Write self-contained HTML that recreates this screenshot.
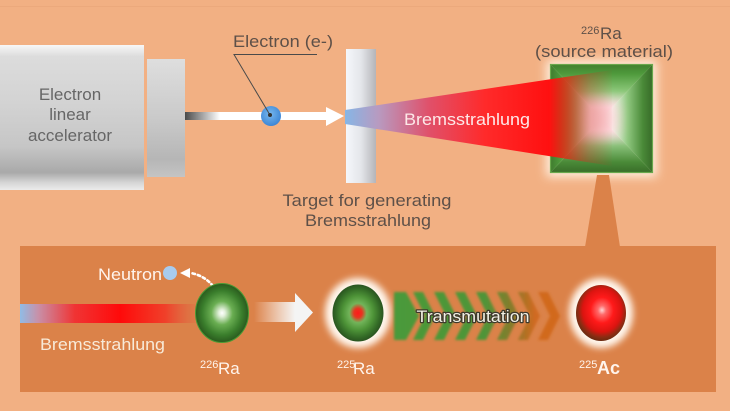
<!DOCTYPE html>
<html><head><meta charset="utf-8"><style>
html,body{margin:0;padding:0;background:#F2B083;}
svg{display:block;}
text{font-family:"Liberation Sans",Arial,sans-serif;}
</style></head><body>
<svg width="730" height="411" viewBox="0 0 730 411" xmlns="http://www.w3.org/2000/svg">
<defs>
  <linearGradient id="acc" x1="0" y1="0" x2="0" y2="1">
    <stop offset="0" stop-color="#f7f7f7"/>
    <stop offset="0.08" stop-color="#dcdcdc"/>
    <stop offset="0.4" stop-color="#d3d3d3"/>
    <stop offset="0.7" stop-color="#c6c6c6"/>
    <stop offset="0.88" stop-color="#a9a9a9"/>
    <stop offset="0.95" stop-color="#d6d6d6"/>
    <stop offset="1" stop-color="#ececec"/>
  </linearGradient>
  <linearGradient id="acc2" x1="0" y1="0" x2="0" y2="1">
    <stop offset="0" stop-color="#dedede"/>
    <stop offset="0.5" stop-color="#cacaca"/>
    <stop offset="0.85" stop-color="#b6b6b6"/>
    <stop offset="1" stop-color="#c4c4c4"/>
  </linearGradient>
  <linearGradient id="beam" gradientUnits="userSpaceOnUse" x1="185" y1="0" x2="220" y2="0">
    <stop offset="0" stop-color="#4a4a4a"/>
    <stop offset="1" stop-color="#ffffff"/>
  </linearGradient>
  <radialGradient id="elec" cx="0.45" cy="0.4" r="0.6">
    <stop offset="0" stop-color="#78b8ee"/>
    <stop offset="1" stop-color="#3c86d6"/>
  </radialGradient>
  <linearGradient id="tgt" x1="0" y1="0" x2="1" y2="0">
    <stop offset="0" stop-color="#f5f7fb"/>
    <stop offset="0.5" stop-color="#e4e6ea"/>
    <stop offset="1" stop-color="#b4b4b8"/>
  </linearGradient>
  <linearGradient id="cone" gradientUnits="userSpaceOnUse" x1="345" y1="0" x2="625" y2="0">
    <stop offset="0" stop-color="#86b6e6" stop-opacity="1"/>
    <stop offset="0.12" stop-color="#b89ac0" stop-opacity="1"/>
    <stop offset="0.3" stop-color="#e0506a" stop-opacity="1"/>
    <stop offset="0.5" stop-color="#ff2a2a" stop-opacity="1"/>
    <stop offset="0.73" stop-color="#ff1010" stop-opacity="1"/>
    <stop offset="0.79" stop-color="#e02a14" stop-opacity="0.8"/>
    <stop offset="0.875" stop-color="#c83a28" stop-opacity="0.35"/>
    <stop offset="0.96" stop-color="#c83a28" stop-opacity="0"/>
  </linearGradient>
  <linearGradient id="sqT" gradientUnits="userSpaceOnUse" x1="0" y1="64" x2="0" y2="118.5">
    <stop offset="0" stop-color="#3f7f2e"/>
    <stop offset="0.18" stop-color="#4f9a3c"/>
    <stop offset="0.5" stop-color="#8cc87a"/>
    <stop offset="0.8" stop-color="#ffeef0"/>
    <stop offset="1" stop-color="#ffdde2"/>
  </linearGradient>
  <linearGradient id="sqB" gradientUnits="userSpaceOnUse" x1="0" y1="173" x2="0" y2="118.5">
    <stop offset="0" stop-color="#386c28"/>
    <stop offset="0.2" stop-color="#4a8a38"/>
    <stop offset="0.5" stop-color="#88c078"/>
    <stop offset="0.8" stop-color="#ffeef0"/>
    <stop offset="1" stop-color="#ffdde2"/>
  </linearGradient>
  <linearGradient id="sqR" gradientUnits="userSpaceOnUse" x1="653" y1="0" x2="601.5" y2="0">
    <stop offset="0" stop-color="#376a28"/>
    <stop offset="0.2" stop-color="#4a8a38"/>
    <stop offset="0.5" stop-color="#90c880"/>
    <stop offset="0.8" stop-color="#f4fff2"/>
    <stop offset="1" stop-color="#ffdde2"/>
  </linearGradient>
  <linearGradient id="sqL" gradientUnits="userSpaceOnUse" x1="550" y1="0" x2="601.5" y2="0">
    <stop offset="0" stop-color="#3f7a2e"/>
    <stop offset="0.2" stop-color="#4f9a3c"/>
    <stop offset="0.5" stop-color="#90c880"/>
    <stop offset="0.8" stop-color="#ffeef0"/>
    <stop offset="1" stop-color="#ffdde2"/>
  </linearGradient>
  <linearGradient id="bbar" gradientUnits="userSpaceOnUse" x1="20" y1="0" x2="202" y2="0">
    <stop offset="0" stop-color="#90bce6"/>
    <stop offset="0.1" stop-color="#c890a8"/>
    <stop offset="0.3" stop-color="#f03434"/>
    <stop offset="0.55" stop-color="#ff0a0a"/>
    <stop offset="0.8" stop-color="#f0402a"/>
    <stop offset="1" stop-color="#e06040" stop-opacity="0"/>
  </linearGradient>
  <radialGradient id="ra226" cx="0.5" cy="0.5" r="0.5">
    <stop offset="0" stop-color="#ffffff"/>
    <stop offset="0.12" stop-color="#e2f0da"/>
    <stop offset="0.4" stop-color="#6aae52"/>
    <stop offset="0.75" stop-color="#3a7e2c"/>
    <stop offset="1" stop-color="#2a5a1e"/>
  </radialGradient>
  <linearGradient id="warr" gradientUnits="userSpaceOnUse" x1="254" y1="0" x2="295" y2="0">
    <stop offset="0" stop-color="#ffffff" stop-opacity="0"/>
    <stop offset="1" stop-color="#f4f4f4" stop-opacity="1"/>
  </linearGradient>
  <radialGradient id="ra225" cx="0.5" cy="0.5" r="0.5">
    <stop offset="0" stop-color="#ff1a1a"/>
    <stop offset="0.16" stop-color="#e83420"/>
    <stop offset="0.34" stop-color="#72b45a"/>
    <stop offset="0.6" stop-color="#4e9438"/>
    <stop offset="0.86" stop-color="#336a26"/>
    <stop offset="1" stop-color="#2a5420"/>
  </radialGradient>
  <radialGradient id="ac225" cx="0.52" cy="0.45" r="0.55">
    <stop offset="0" stop-color="#ffd4d4"/>
    <stop offset="0.15" stop-color="#ff6a6a"/>
    <stop offset="0.42" stop-color="#ff1a1a"/>
    <stop offset="0.7" stop-color="#dc1410"/>
    <stop offset="0.88" stop-color="#8a2c12"/>
    <stop offset="1" stop-color="#6a2a10"/>
  </radialGradient>
  <linearGradient id="chev" gradientUnits="userSpaceOnUse" x1="393" y1="0" x2="560" y2="0">
    <stop offset="0" stop-color="#4a9a3a"/>
    <stop offset="0.55" stop-color="#4f9438"/>
    <stop offset="0.72" stop-color="#8a7a2a"/>
    <stop offset="0.85" stop-color="#d06a20"/>
    <stop offset="1" stop-color="#d2691e"/>
  </linearGradient>
  <filter id="glow" x="-50%" y="-50%" width="200%" height="200%"><feGaussianBlur stdDeviation="5"/></filter>
  <filter id="glow2" x="-50%" y="-50%" width="200%" height="200%"><feGaussianBlur stdDeviation="3.5"/></filter>
  <filter id="soft" x="-20%" y="-20%" width="140%" height="140%"><feGaussianBlur stdDeviation="1.2"/></filter>
  <filter id="blur6" x="-150%" y="-150%" width="400%" height="400%"><feGaussianBlur stdDeviation="7"/></filter>
</defs>

<rect width="730" height="411" fill="#F2B083"/>
<line x1="0" y1="6.5" x2="730" y2="6.5" stroke="#e9a679" stroke-width="1" opacity="0.6"/>

<!-- accelerator -->
<rect x="0" y="45" width="144" height="145" fill="url(#acc)"/>
<rect x="147" y="59" width="38" height="118" fill="url(#acc2)"/>
<text x="70" y="100" font-size="17" fill="#666" text-anchor="middle">Electron</text>
<text x="70" y="120" font-size="17" fill="#666" text-anchor="middle">linear</text>
<text x="70" y="141" font-size="17" fill="#666" text-anchor="middle">accelerator</text>

<!-- beam -->
<rect x="185" y="112" width="142" height="8" fill="url(#beam)"/>
<polygon points="326,107 344,116 326,126" fill="#ffffff"/>
<circle cx="271" cy="116" r="10" fill="url(#elec)"/>
<polyline points="317,54.5 234,54.5 270,115" fill="none" stroke="#4a4a4a" stroke-width="1"/>
<circle cx="270" cy="115" r="2" fill="#333"/>
<text x="233" y="47" font-size="17" fill="#5e5048" textLength="100" lengthAdjust="spacingAndGlyphs">Electron (e-)</text>

<!-- target -->
<rect x="346" y="49" width="30" height="134" fill="url(#tgt)"/>

<!-- source square -->
<rect x="546" y="60" width="111" height="117" fill="#fff4e6" filter="url(#glow)" opacity="0.9"/>
<polygon points="550,64 653,64 601.5,118.5" fill="url(#sqT)"/>
<polygon points="653,64 653,173 601.5,118.5" fill="url(#sqR)"/>
<polygon points="550,173 653,173 601.5,118.5" fill="url(#sqB)"/>
<polygon points="550,64 550,173 601.5,118.5" fill="url(#sqL)"/>
<rect x="586" y="102" width="32" height="34" fill="#ffd0d8" filter="url(#blur6)" opacity="0.85"/>
<rect x="550.5" y="64.5" width="102" height="108" fill="none" stroke="#68a84c" stroke-width="1.2"/>

<!-- cone -->
<polygon points="345,110 612,70 612,166 345,124" fill="url(#cone)"/>
<text x="404" y="125" font-size="17" fill="#fde8e8" textLength="126" lengthAdjust="spacingAndGlyphs">Bremsstrahlung</text>

<text x="581" y="34" font-size="11" fill="#5e5048">226</text>
<text x="600" y="39" font-size="17" fill="#5e5048">Ra</text>
<text x="535" y="57" font-size="17" fill="#5e5048" textLength="138" lengthAdjust="spacingAndGlyphs">(source material)</text>

<text x="367" y="206" font-size="17" fill="#5e5048" text-anchor="middle" textLength="169" lengthAdjust="spacingAndGlyphs">Target for generating</text>
<text x="368" y="226" font-size="17" fill="#5e5048" text-anchor="middle" textLength="126" lengthAdjust="spacingAndGlyphs">Bremsstrahlung</text>

<!-- pointer + panel -->
<polygon points="597,175 609,175 620,247 585,247" fill="#DB8249"/>
<rect x="20" y="246" width="696" height="146" fill="#DB8249"/>

<!-- bottom beam -->
<rect x="20" y="304" width="182" height="19" fill="url(#bbar)"/>
<text x="40" y="350" font-size="17" fill="#f8ead8" textLength="125" lengthAdjust="spacingAndGlyphs">Bremsstrahlung</text>

<!-- neutron -->
<text x="98" y="280" font-size="17" fill="#fff4ec" textLength="64" lengthAdjust="spacingAndGlyphs">Neutron</text>
<circle cx="170" cy="273" r="7" fill="#a8cbee"/>
<path d="M213,286 Q205,276 191,273" fill="none" stroke="#ffffff" stroke-width="2.6" stroke-dasharray="2.5 3" stroke-linecap="round"/>
<polygon points="180,273 190,268 190,278" fill="#ffffff"/>

<!-- 226Ra sphere -->
<ellipse cx="222" cy="313" rx="26.5" ry="29.5" fill="url(#ra226)" stroke="#4a9a34" stroke-width="1"/>
<text x="200" y="368" font-size="11" fill="#fff4ec">226</text>
<text x="218" y="374" font-size="17" fill="#fff4ec">Ra</text>

<!-- white arrow -->
<rect x="254" y="302" width="42" height="20" fill="url(#warr)"/>
<polygon points="295,293 313,312.5 295,332" fill="#f4f4f4"/>

<!-- 225Ra -->
<ellipse cx="358" cy="313" rx="33" ry="35" fill="#fff6ec" filter="url(#glow2)"/>
<ellipse cx="358" cy="313" rx="25.5" ry="28.5" fill="url(#ra225)"/>
<text x="337" y="368" font-size="11" fill="#fff4ec">225</text>
<text x="353" y="374" font-size="17" fill="#fff4ec">Ra</text>

<!-- chevrons -->
<g fill="url(#chev)" filter="url(#soft)">
  <polygon points="394,292 406,292 419,316 406,340 394,340"/>
  <polygon points="413,292 423,292 435,316 423,340 413,340 425,316"/>
  <polygon points="434,292 444,292 456,316 444,340 434,340 446,316"/>
  <polygon points="455,292 465,292 477,316 465,340 455,340 467,316"/>
  <polygon points="476,292 486,292 498,316 486,340 476,340 488,316"/>
  <polygon points="497,292 507,292 519,316 507,340 497,340 509,316"/>
  <polygon points="518,292 528,292 540,316 528,340 518,340 530,316"/>
  <polygon points="538,292 548,292 560,316 548,340 538,340 550,316"/>
</g>
<text x="473" y="322" font-size="16.5" fill="#f2f0e4" stroke="#3e3a2c" stroke-width="2.4" stroke-linejoin="round" paint-order="stroke" text-anchor="middle" textLength="113" lengthAdjust="spacingAndGlyphs">Transmutation</text>

<!-- 225Ac -->
<ellipse cx="601" cy="313" rx="32" ry="35" fill="#fff6ec" filter="url(#glow2)"/>
<ellipse cx="601" cy="313" rx="25" ry="28" fill="url(#ac225)"/>
<text x="579" y="368" font-size="11" fill="#fff4ec">225</text>
<text x="597" y="374" font-size="18" font-weight="bold" fill="#fff4ec">Ac</text>
</svg>
</body></html>
